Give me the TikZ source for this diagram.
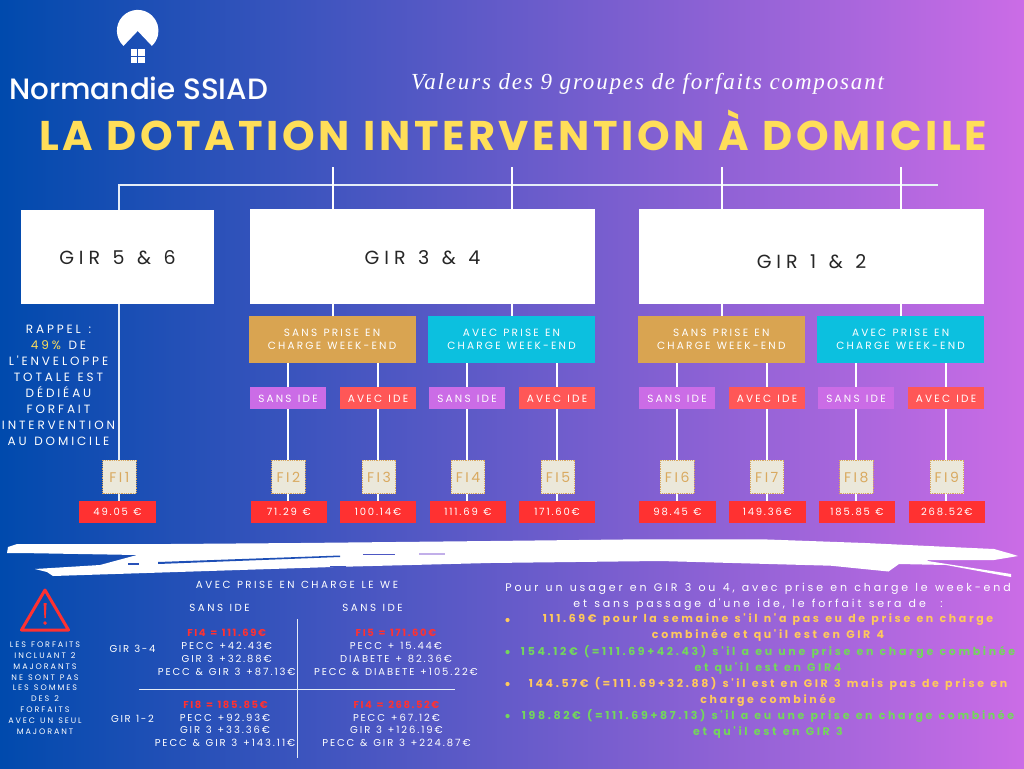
\documentclass[tikz,border=0pt]{standalone}
\usepackage{fontspec}
\setmainfont{Poppins}
\defaultfontfeatures{WordSpace=1.25}
\newfontfamily\popW[LetterSpace=18]{Poppins}
\newfontfamily\popT[LetterSpace=16]{Poppins}
\newfontfamily\popX[LetterSpace=24]{Poppins}
\newfontfamily\popK[LetterSpace=21]{Poppins}
\newfontfamily\popV[LetterSpace=19]{Poppins}
\newfontfamily\popG[LetterSpace=26]{Poppins}
\newfontfamily\popP[LetterSpace=26]{Poppins}
\newfontfamily\popB[LetterSpace=16]{Poppins Bold}
\newfontfamily\popQ[LetterSpace=24]{Poppins Bold}
\newfontfamily\popH[LetterSpace=8.5,WordSpace=1.12]{Poppins Bold}
\newfontfamily\popM[LetterSpace=0,WordSpace=1]{Poppins Medium}
\newfontfamily\serI[LetterSpace=8,WordSpace=1]{Liberation Serif Italic}
\definecolor{bgL}{HTML}{004AAD}
\definecolor{bgR}{HTML}{CB6CE6}
\definecolor{titleY}{HTML}{FFDE59}
\definecolor{warmY}{HTML}{FFC95C}
\definecolor{gr}{HTML}{74D65C}
\definecolor{org}{HTML}{D9A451}
\definecolor{cya}{HTML}{0CC0DF}
\definecolor{pur}{HTML}{CB6CE6}
\definecolor{cor}{HTML}{FF5757}
\definecolor{redd}{HTML}{FF3131}
\definecolor{cream}{HTML}{EBE8DA}
\definecolor{tan}{HTML}{D9A95F}
\newcommand\fz[2]{\fontsize{#1}{#2}\selectfont}
\newcommand\low[2]{\raisebox{-#1pt}[0pt][0pt]{#2}}
\tikzset{
 x=1pt,y=-1pt,
 girbox/.style={fill=white,draw=none,inner sep=0pt,text=black!85,font=\popG\fz{19}{22}},
 wkbox/.style={minimum width=167pt,minimum height=47pt,inner sep=0pt,text=white,align=center,font=\popK\fz{10.5}{13}},
 idebox/.style={minimum width=76pt,minimum height=22pt,inner sep=0pt,text=white,font=\popK\fz{10.5}{12}},
 fibox/.style={minimum width=33.5pt,minimum height=33.5pt,inner sep=0pt,fill=cream,draw=tan,densely dotted,line width=.8pt,text=tan,font=\popW\fz{14}{16}},
 pricebox/.style={minimum width=76.5pt,minimum height=22pt,inner sep=0pt,fill=redd,text=white,font=\popW\fz{10}{12}},
 conn/.style={draw=white,line width=2.6pt},
 thinl/.style={draw=white!90!bgL,line width=1.6pt},
 txt/.style={inner sep=0pt,text=white,font=\popV\fz{10}{12}},
 hdt/.style={inner sep=0pt,text=white,font=\popX\fz{10.3}{12}},
 redt/.style={inner sep=0pt,text=redd,font=\popB\fz{10}{12}},
 para/.style={inner sep=0pt,align=center,font=\popQ\fz{11}{16}},
}
\begin{document}
\begin{tikzpicture}
\useasboundingbox (0,0) rectangle (1024,768);
\shade[left color=bgL,right color=bgR] (0,0) rectangle (1024,768);
% logo
\fill[white] (123.5,45.9) arc[start angle=133,end angle=407,radius=20.8] -- (137.7,31) -- cycle;
\foreach \a/\b in {130.7/49,138.4/49,130.7/56.7,138.4/56.7}{\fill[white] (\a,\b) rectangle ++(6.6,6.6);}
\node[inner sep=0pt,anchor=base west,text=white,font=\popM\fz{29.4}{34}] (brand) at (9,99) {Normandie SSIAD};
\node[inner sep=0pt,anchor=base,text=white,font=\serI\fz{23}{26}] (sub) at (647.5,89) {Valeurs des 9 groupes de forfaits composant};
\node[inner sep=0pt,anchor=base,text=titleY,font=\popH\fz{41.5}{46}] (title) at (513,150) {LA DOTATION INTERVENTION À DOMICILE};
% boxes
\node[girbox,minimum width=193pt,minimum height=94pt] (g1) at (117.5,257) {\low{7.7}{GIR 5 \& 6}};
\node[girbox,minimum width=345pt,minimum height=95pt] (g2) at (422.5,256.5) {\low{8.2}{GIR 3 \& 4}};
\node[girbox,minimum width=345pt,minimum height=95pt] (g3) at (811.5,256.5) {\low{12.2}{GIR 1 \& 2}};
\node[wkbox,fill=org] (w1) at (332,339.5) {SANS PRISE EN\\CHARGE WEEK-END};
\node[wkbox,fill=cya] (w2) at (511.5,339.5) {AVEC PRISE EN\\CHARGE WEEK-END};
\node[wkbox,fill=org] (w3) at (721.3,339.5) {SANS PRISE EN\\CHARGE WEEK-END};
\node[wkbox,fill=cya] (w4) at (900.6,339.5) {AVEC PRISE EN\\CHARGE WEEK-END};
\node[idebox,fill=pur] (s2) at (288,398) {\low{4.7}{SANS IDE}};
\node[idebox,fill=cor] (s3) at (378,398) {\low{4.7}{AVEC IDE}};
\node[idebox,fill=pur] (s4) at (467,398) {\low{4.7}{SANS IDE}};
\node[idebox,fill=cor] (s5) at (557,398) {\low{4.7}{AVEC IDE}};
\node[idebox,fill=pur] (s6) at (677,398) {\low{4.7}{SANS IDE}};
\node[idebox,fill=cor] (s7) at (767,398) {\low{4.7}{AVEC IDE}};
\node[idebox,fill=pur] (s8) at (856,398) {\low{4.7}{SANS IDE}};
\node[idebox,fill=cor] (s9) at (946,398) {\low{4.7}{AVEC IDE}};
\foreach \n/\c in {1/119.3,2/288.3,3/379,4/468,5/558,6/677.2,7/766.8,8/856.3,9/946.8}{
 \node[fibox] (f\n) at (\c,476.8) {\low{5.4}{FI\n}};}
\node[pricebox] (p1) at (117.5,512) {49.05 €};
\node[pricebox] (p2) at (288.8,512) {71.29 €};
\node[pricebox] (p3) at (378,512) {100.14€};
\node[pricebox] (p4) at (468,512) {111.69 €};
\node[pricebox] (p5) at (557,512) {171.60€};
\node[pricebox] (p6) at (677.5,512) {98.45 €};
\node[pricebox] (p7) at (767.3,512) {149.36€};
\node[pricebox] (p8) at (857,512) {185.85 €};
\node[pricebox] (p9) at (946.8,512) {268.52€};
% connectors
\coordinate (busL) at (119,185); \coordinate (busR) at (938,185);
\coordinate (t1) at (333,167); \coordinate (t2) at (512,167);
\coordinate (t3) at (722,167); \coordinate (t4) at (901,167);
\draw[thinl] (g1.north -| busL) -- (busL) -- (busR);
\foreach \t/\g/\w in {t1/g2/w1,t2/g2/w2,t3/g3/w3,t4/g3/w4}{
 \draw[conn] (\t) -- (\t |- \g.north);
 \draw[conn] (\t |- \g.south) -- (\t |- \w.north);}
\draw[thinl] (g1.south -| busL) -- (f1.north -| busL);
\draw[thinl] (f1.south -| busL) -- (p1.north -| busL);
\foreach \w/\a/\b in {w1/2/3,w2/4/5,w3/6/7,w4/8/9}{
 \foreach \n in {\a,\b}{
  \draw[conn] (s\n.north |- \w.south) -- (s\n.north);
  \draw[conn] (s\n.south) -- (s\n.south |- f\n.north);
  \draw[conn] (s\n.south |- f\n.south) -- (s\n.south |- p\n.north);}}
% rappel
\node[inner sep=0pt,text=white,align=center,font=\popX\fz{12}{16}] (rap) at (58.5,385) {RAPPEL :\\{\color{titleY}49\%} DE\\L'ENVELOPPE\\TOTALE EST\\DÉDIÉAU\\FORFAIT\\INTERVENTION\\AU DOMICILE};
% brush
\fill[white] (17,544) -- (80,544) -- (170,544) -- (300,543) -- (490,541) -- (640,539.3) -- (762,539.3) -- (865,543) -- (950,547) -- (994,549) -- (1011,553.8) -- (1018,556) -- (994,560) -- (927.7,560) -- (927.7,561) -- (1011,574) -- (1011,577) -- (946,565) -- (899,564) -- (888.5,571.5) -- (830.6,565.7) -- (660,561) -- (490,563) -- (333,567) -- (53,576) -- (47,572) -- (35,569) -- (100,565) -- (137,555) -- (20,553) -- (7,553) -- (8,547) -- cycle;
\fill[bgL!80!bgR] (128,563) rectangle (139,564.5);
\fill[bgL!85!bgR] (158,562) -- (340,555.5) -- (340,557) -- (158,564) -- cycle;
\fill[bgL!62!bgR] (363,553.5) rectangle (395,555);
\fill[bgL!35!bgR!50!white] (419,553) rectangle (445,555);
\fill[bgL!70!bgR] (330,565.5) rectangle (346,567);
% warning
\draw[redd,line width=3pt,line join=round] (45,590) -- (68.5,630) -- (21.5,630) -- cycle;
\fill[redd] (43.6,603) -- (46.6,603) -- (45.8,618) -- (44.4,618) -- cycle;
\fill[redd] (45.1,623) circle (1.9);
\node[inner sep=0pt,text=white,align=center,font=\popX\fz{8}{10.8}] (warn) at (45,688) {LES FORFAITS\\INCLUANT 2\\MAJORANTS\\NE SONT PAS\\LES SOMMES\\DES 2\\FORFAITS\\AVEC UN SEUL\\MAJORANT};
% table
\coordinate (vT) at (297.5,619); \coordinate (vB) at (297.5,758);
\coordinate (hL) at (139,689.5); \coordinate (hR) at (455,689.5);
\draw[thinl] (vT) -- (vB); \draw[thinl] (hL) -- (hR);
\node[hdt] (th) at (297,584.5) {AVEC PRISE EN CHARGE LE WE};
\node[hdt] (c1) at (219.5,607.5) {SANS IDE};
\node[hdt] (c2) at (372.5,607.5) {SANS IDE};
\node[txt,font=\popT\fz{10}{12}] (r1) at (132.5,648.5) {GIR 3-4};
\node[txt,font=\popT\fz{10}{12}] (r2) at (132.5,718.5) {GIR 1-2};
\node[redt] (a0) at (226.7,633) {FI4 = 111.69€};
\node[txt] (a1) at (226.7,645.5) {PECC +42.43€};
\node[txt] (a2) at (226.7,658.5) {GIR 3 +32.88€};
\node[txt] (a3) at (226.7,671.5) {PECC \& GIR 3 +87.13€};
\node[redt] (b0) at (396,633) {FI5 = 171.60€};
\node[txt] (b1) at (396,645.5) {PECC + 15.44€};
\node[txt] (b2) at (396,658.5) {DIABETE + 82.36€};
\node[txt] (b3) at (396,671.5) {PECC \& DIABETE +105.22€};
\node[redt] (d0) at (225.5,704.5) {FI8 = 185.85€};
\node[txt] (d1) at (225,717.5) {PECC +92.93€};
\node[txt] (d2) at (225,729.5) {GIR 3 +33.36€};
\node[txt] (d3) at (225,742.5) {PECC \& GIR 3 +143.11€};
\node[redt] (e0) at (396.5,704.5) {FI4 = 268.52€};
\node[txt] (e1) at (396.5,717.5) {PECC +67.12€};
\node[txt] (e2) at (396.5,729.5) {GIR 3 +126.19€};
\node[txt] (e3) at (396.5,742.5) {PECC \& GIR 3 +224.87€};
% right text
\node[inner sep=0pt,text=white,align=center,font=\popP\fz{11}{16}] (q0) at (758,596.5) {Pour un usager en GIR 3 ou 4, avec prise en charge le week-end\\et sans passage d'une ide, le forfait sera de~~:};
\node[para,text=warmY] (q1) at (768,628) {111.69€ pour la semaine s'il n'a pas eu de prise en charge\\combinée et qu'il est en GIR 4};
\node[para,text=gr] (q2) at (768,660) {154.12€ (=111.69+42.43) s'il a eu une prise en charge combinée\\et qu'il est en GIR4};
\node[para,text=warmY] (q3) at (768,692) {144.57€ (=111.69+32.88) s'il est en GIR 3 mais pas de prise en\\charge combinée};
\node[para,text=gr] (q4) at (768,724) {198.82€ (=111.69+87.13) s'il a eu une prise en charge combinée\\et qu'il est en GIR 3};
\foreach \yy/\cc in {620/warmY,652/gr,684/warmY,716/gr}{\fill[\cc] (507.5,\yy) circle (2.1);}
\end{tikzpicture}
\end{document}
